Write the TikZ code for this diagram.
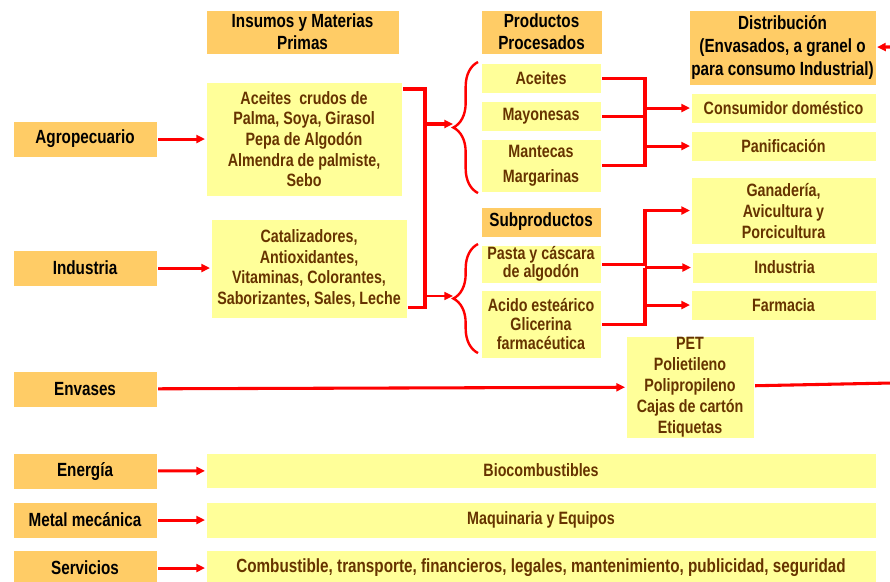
\documentclass[tikz,border=0pt]{standalone}
\usepackage{fontspec}
\setmainfont{Liberation Sans}[FakeStretch=0.8]
\usepackage[dvipsnames]{xcolor}
\usetikzlibrary{arrows.meta,decorations.pathreplacing}
\definecolor{boxorange}{HTML}{FFCC66}
\definecolor{boxyellow}{HTML}{FFFF99}
\definecolor{textbrown}{HTML}{663300}

\begin{document}
\begin{tikzpicture}[x=0.75pt,y=-0.75pt,>={Triangle[length=6.5pt,width=6pt]},red,line width=2.3pt,
    box size/.style 2 args={minimum width=#1*0.75pt,minimum height=#2*0.75pt},
    head node/.style={fill=boxorange,text=black,anchor=north west,inner sep=0pt,align=center,font=\bfseries\fontsize{14.3}{16.5}\selectfont},
    item node/.style={fill=boxyellow,text=textbrown,anchor=north west,inner sep=0pt,align=center,font=\bfseries\fontsize{13.4}{15.5}\selectfont},
    brace line/.style={line width=1.8pt,decorate,decoration={brace,amplitude=18.5pt}}]

            \useasboundingbox (0,0) rectangle (890,582);

            \node[head node, box size={192}{43}] (h1) at (205,9) {Insumos y Materias\\Primas};
            \node[head node, box size={120}{43}] (h2) at (480,9) {Productos\\Procesados};
            \node[head node, box size={186}{74}, font=\bfseries\fontsize{14.3}{17.2}\selectfont] (h3) at (688,9) {Distribución\\(Envasados, a granel o\\para consumo Industrial)};
            \node[head node, box size={119}{29}] (h4) at (480,206) {Subproductos};

            \node[head node, box size={143}{35}] (1) at (12,120) {Agropecuario};
            \node[head node, box size={143}{35}] (2) at (12,249) {Industria};
            \node[head node, box size={143}{35}] (3) at (12,370) {Envases};
            \node[head node, box size={143}{35}] (4) at (12,452) {Energía};
            \node[head node, box size={143}{35}] (5) at (12,501) {Metal mecánica};
            \node[head node, box size={143}{35}] (6) at (12,549) {Servicios};

            \node[item node, box size={195}{113}] (1b) at (205,81) {Aceites\ \ crudos de\\Palma, Soya, Girasol\\Pepa de Algodón\\Almendra de palmiste,\\Sebo};
            \node[item node, box size={195}{98}] (2b) at (210,218) {Catalizadores,\\Antioxidantes,\\Vitaminas, Colorantes,\\Saborizantes, Sales, Leche};
            \node[item node, box size={127}{101}, font=\bfseries\fontsize{13.4}{15.75}\selectfont] (3b) at (625,335) {PET\\Polietileno\\Polipropileno\\Cajas de cartón\\Etiquetas};
            \node[item node, box size={669}{34}] (4b) at (205,452) {Biocombustibles};
            \node[item node, box size={669}{35}] (5b) at (205,501) {Maquinaria y Equipos};
            \node[item node, box size={669}{35}, font=\bfseries\fontsize{14.3}{15.5}\selectfont] (6b) at (205,549) {Combustible, transporte, financieros, legales, mantenimiento, publicidad, seguridad};

            \node[item node, box size={119}{29}] (p1) at (480,62) {Aceites};
            \node[item node, box size={119}{29}] (p2) at (480,100) {Mayonesas};
            \node[item node, box size={119}{52}, font=\bfseries\fontsize{13.4}{18.75}\selectfont] (p3) at (480,138) {Mantecas\\Margarinas};
            \node[item node, box size={119}{37}, font=\bfseries\fontsize{13.4}{12}\selectfont] (p4) at (480,244) {Pasta y cáscara\\de algodón};
            \node[item node, box size={119}{67}, font=\bfseries\fontsize{13.4}{14.6}\selectfont] (p5) at (480,289) {Acido esteárico\\Glicerina\\farmacéutica};

            \node[item node, box size={184}{29}] (d1) at (690,92) {Consumidor doméstico};
            \node[item node, box size={184}{29}] (d2) at (690,130) {Panificación};
            \node[item node, box size={184}{66}, font=\bfseries\fontsize{13.4}{15.75}\selectfont] (d3) at (690,176) {Ganadería,\\Avicultura y\\Porcicultura};
            \node[item node, box size={184}{30}] (d4) at (691,251) {Industria};
            \node[item node, box size={184}{29}] (d5) at (690,289) {Farmacia};

            \coordinate (jA) at (425,124);
            \coordinate (jB) at (425,296);
            \coordinate (tipA) at (453,124);
            \coordinate (tipB) at (453,296);
            \coordinate (c1) at (645,0);
            \coordinate (eR) at (892,383);
            \coordinate (eD) at (892,47);

            \draw[->] (1) -- (1b);
            \draw[->] (2.east) -- (2.east -| 2b.west);
            \draw (1b.north east) ++(0,8) -| (jA);
            \draw (2b.south east) ++(0,-12) -| (jA);
            \draw[->, line width=3.5pt] (jA) -- (tipA);
            \draw[->, line width=1.2pt] (jB) -- (tipB);

            \draw[brace line] ([xshift=-1.5pt]p3.south west) -- ([xshift=-1.5pt]p1.north west);
            \draw[brace line] ([xshift=-1.5pt,yshift=4.5pt]p5.south west) -- ([xshift=-1.5pt]p4.north west);

            \draw (p1.east) -| (c1 |- p3.east) -- (p3.east);
            \draw (p2.east) -- (p2.east -| c1);
            \draw[->] (c1 |- d1.west) -- (d1.west);
            \draw[->] (c1 |- d2.west) -- (d2.west);
            \draw[->] (p4.east) -| (c1 |- d3.west) -- (d3.west);
            \draw (p5.east) -| (c1 |- d4.west);
            \draw[->] (c1 |- d4.west) -- (d4.west);
            \draw[->] (c1 |- d5.west) -- (d5.west);

            \draw[->] (3) -- (3b);
            \draw (3b) -- (eR);
            \draw[->] (eD) -- (h3);
            \draw[->] (4) -- (4b);
            \draw[->] (5) -- (5b);
            \draw[->] (6) -- (6b);
        \end{tikzpicture}
\end{document}
